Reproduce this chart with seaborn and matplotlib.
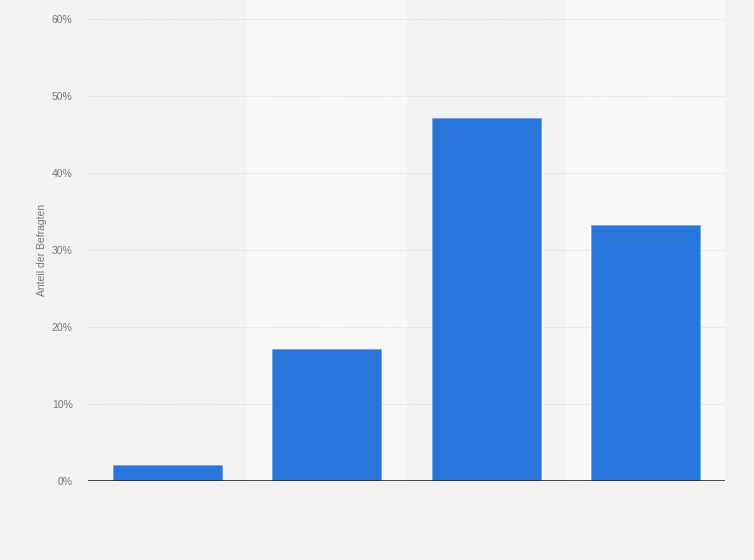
import matplotlib
matplotlib.use("Agg")
import matplotlib.pyplot as plt
import seaborn as sns
import pandas as pd
from matplotlib.ticker import FuncFormatter

categories = ["A", "B", "C", "D"]
values = [2.1, 17.1, 47.1, 33.2]
y_ticks = [0, 10, 20, 30, 40, 50, 60]

BG = "#f2f2f2"
BAND = "#f8f8f8"
BAR = "#2876db"

sns.set_style("white")
plt.rcParams["font.family"] = ["Liberation Sans", "DejaVu Sans"]

df = pd.DataFrame({"cat": categories, "val": values})

fig = plt.figure(figsize=(7.54, 5.6), dpi=100, facecolor=BG)
ax = fig.add_axes([88 / 754, 1 - 481 / 560, 637 / 754, 462 / 560])
ax.set_facecolor(BG)

# alternating column bands, reaching up to the top of the figure
for i in range(len(categories)):
    if i % 2 == 1:
        ax.axvspan(i - 0.5, i + 0.5, ymin=0, ymax=481 / 462, color=BAND,
                   zorder=0, clip_on=False, lw=0)

for y in y_ticks[1:]:
    ax.axhline(y, color="#d4d4d4", lw=0.8, ls=(0, (1, 1.5)), zorder=1)

sns.barplot(data=df, x="cat", y="val", color=BAR, width=0.685,
            saturation=1, ax=ax, zorder=3, edgecolor="#6fa3e8", linewidth=0.6)

ax.axhline(0, color="#2a2a2a", lw=1.2, zorder=4)

ax.set_xlim(-0.5, len(categories) - 0.5)
ax.set_ylim(0, 60)
ax.set_yticks(y_ticks)
ax.yaxis.set_major_formatter(FuncFormatter(lambda v, p: f"{v:.0f}%"))
ax.tick_params(axis="y", length=0, pad=11, labelsize=7.5, labelcolor="#777777")
ax.set_xticks([])
ax.set_xlabel("")
ax.set_ylabel("Anteil der Befragten", fontsize=7.5, color="#777777")
ax.yaxis.set_label_coords(-(88 - 47) / 637, 0.5)
for s in ax.spines.values():
    s.set_visible(False)

fig.savefig("out.png", dpi=100, facecolor=BG)
